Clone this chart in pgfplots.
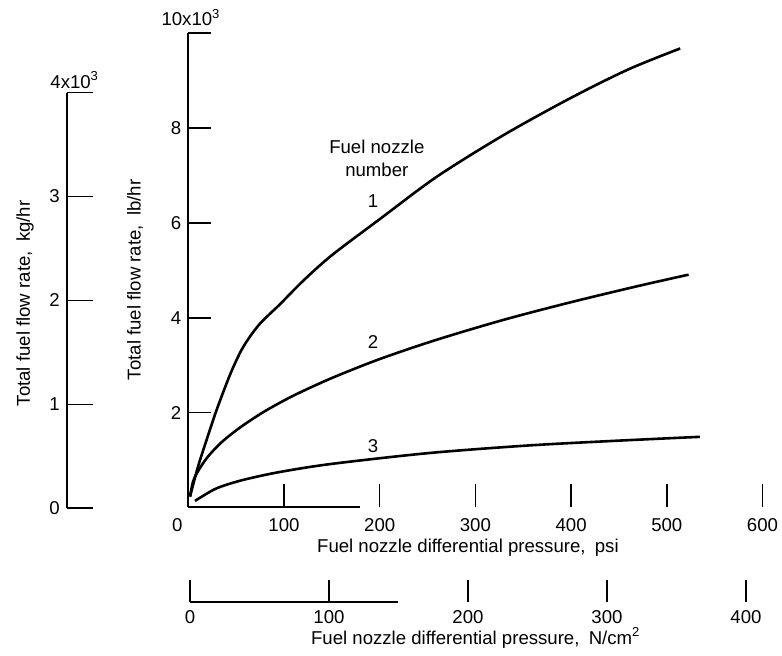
\documentclass[border=0pt]{standalone}
\usepackage{fontspec}
\setmainfont{Liberation Sans}
\usepackage{pgfplots}
\pgfplotsset{compat=1.18}

\begin{document}
\begin{tikzpicture}[font=\fontsize{9.3}{11}\selectfont]
\path[use as bounding box] (-94.15pt,-74.25pt) rectangle (296.85pt,253.75pt);

% main axis: psi vs lb/hr
\begin{axis}[
    at={(0pt,0pt)}, anchor=south west,
    scale only axis, width=287.1pt, height=237.1pt,
    xmin=0, xmax=600, ymin=0, ymax=10,
    clip=false,
    axis x line*=bottom, axis y line*=left,
    x axis line style={draw=none},
    y axis line style={line width=1pt},
    tick align=inside, major tick length=11.6pt,
    every tick/.style={black, line width=0.8pt},
    xtick={100,200,...,600},
    ytick={2,4,6,8,10},
    yticklabels={2,4,6,8,{}},
    extra x ticks={0}, extra x tick labels={0},
    extra x tick style={major tick length=0pt, xticklabel style={xshift=-5.5pt}},
    xticklabel style={yshift=-2pt},
    /pgf/number format/assume math mode=true,
    xlabel={Fuel nozzle differential pressure,\enspace psi},
    xlabel style={at={(axis description cs:0.487,-0.0854)}, anchor=center},
    ylabel={Total fuel flow rate,\enspace lb/hr},
    ylabel style={at={(axis description cs:-0.0928,0.48)}, anchor=center},
]
\draw[line width=1pt] (axis cs:0,0) -- (axis cs:179,0);

% nozzle 1
\addplot[black, line width=1.3pt, smooth] coordinates {
(1.8,0.23) (10,0.85) (20,1.48) (30,2.08) (43.6,2.80) (55,3.30) (65,3.62)
(75,3.88) (85,4.08) (96,4.29) (120,4.78) (150,5.32) (200,6.08) (260,6.98)
(330,7.86) (400,8.64) (460,9.24) (514,9.68)};
% nozzle 2
\addplot[black, line width=1.3pt, smooth] coordinates {
(1.8,0.23) (5,0.55) (10,0.76) (20,1.06) (35,1.38) (55,1.70) (80,2.03)
(110,2.36) (150,2.73) (200,3.13) (260,3.54) (330,3.96) (400,4.33)
(470,4.67) (522.8,4.91)};
% nozzle 3
\addplot[black, line width=1.3pt, smooth] coordinates {
(7,0.14) (26,0.37) (40,0.48) (61,0.60) (96,0.75) (150,0.92) (252.6,1.15)
(357,1.31) (450,1.41) (534.6,1.49)};

\node at (axis cs:197,7.6) {Fuel nozzle};
\node at (axis cs:197,7.13) {number};
\node at (axis cs:193,6.46) {1};
\node at (axis cs:193,3.48) {2};
\node at (axis cs:193,1.29) {3};
\node at (axis cs:2.8,10.33) {10x10\textsuperscript{3}};
\end{axis}

% kg/hr axis
\begin{axis}[
    at={(-60.8pt,-0.4pt)}, anchor=south west,
    scale only axis, width=10pt, height=207.8pt,
    xmin=0, xmax=1, ymin=0, ymax=4,
    clip=false,
    hide x axis, axis y line*=left,
    y axis line style={line width=1pt},
    tick align=inside, major tick length=13pt,
    every tick/.style={black, line width=0.8pt},
    ytick={0,1,2,3,4},
    yticklabels={0,1,2,3,{}},
    /pgf/number format/assume math mode=true,
    ylabel={Total fuel flow rate,\enspace kg/hr},
    ylabel style={at={(axis description cs:-2.08,0.493)}, anchor=center},
]
\node at (axis cs:0,4.12) [xshift=4pt] {4x10\textsuperscript{3}};
\end{axis}

% N/cm2 axis
\begin{axis}[
    at={(0.85pt,-47.1pt)}, anchor=south west,
    scale only axis, width=278pt, height=10pt,
    xmin=0, xmax=400, ymin=0, ymax=1,
    clip=false,
    hide y axis, axis x line*=bottom,
    x axis line style={draw=none},
    tick align=inside, major tick length=10.8pt,
    every tick/.style={black, line width=0.8pt},
    xtick={0,100,...,400},
    xticklabel style={yshift=-1pt},
    /pgf/number format/assume math mode=true,
    xlabel={Fuel nozzle differential pressure,\enspace N/cm\textsuperscript{2}},
    xlabel style={at={(axis description cs:0.514,-1.82)}, anchor=center},
]
\draw[line width=1pt] (axis cs:0,0) -- (axis cs:150,0);
\end{axis}
\end{tikzpicture}
\end{document}
